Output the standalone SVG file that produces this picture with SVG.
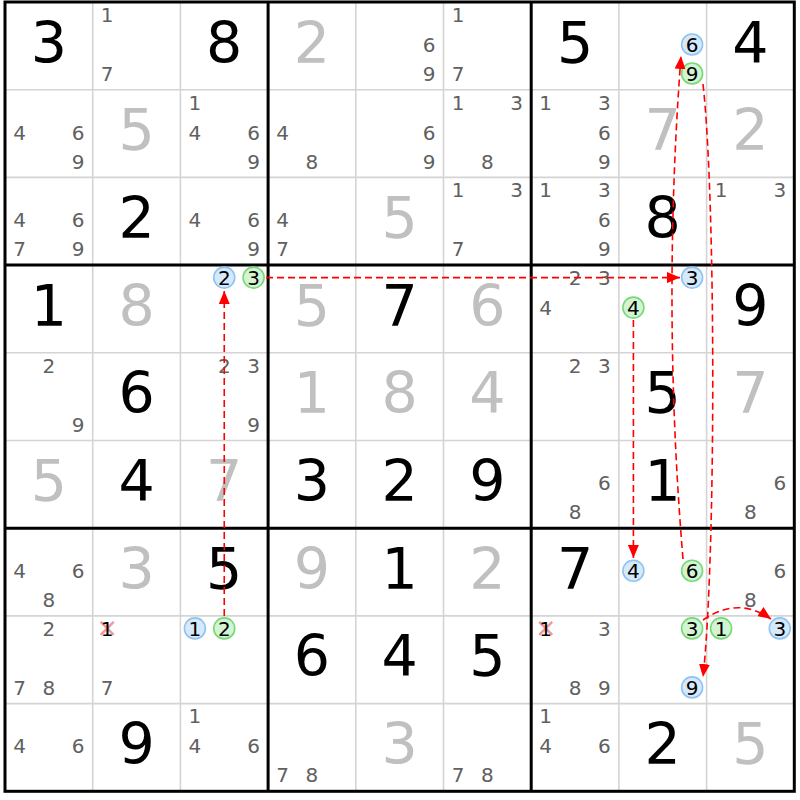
<svg xmlns="http://www.w3.org/2000/svg" width="800" height="800" viewBox="0 0 800 800">
<style>
text{font-family:"DejaVu Sans","Liberation Sans",sans-serif;text-anchor:middle}
.b{font-size:57px;fill:#000}
.g{font-size:57px;fill:#c0c0c0}
.c{font-size:20px;fill:#606060}
.k{font-size:20px;fill:#000}
.thin{stroke:#d4d4d4;stroke-width:1.6}
.thick{stroke:#000;stroke-width:3}
.cb{fill:#d6e9fb;stroke:#8fc3f2;stroke-width:1.6}
.cg{fill:#d3f4d3;stroke:#78d878;stroke-width:1.6}
.x{stroke:#f59a9a;stroke-width:2.6}
.arr{fill:none;stroke:#ff0000;stroke-width:1.6;stroke-dasharray:7,4}
</style>
<defs>
<marker id="ah" markerUnits="userSpaceOnUse" markerWidth="13" markerHeight="11" refX="13" refY="5.5" orient="auto">
<path d="M0,0 L13,5.5 L0,11 Z" fill="#ff0000"/>
</marker>
</defs>
<rect width="800" height="800" fill="#fff"/>
<g id="grid">
<path class="thin" d="M92.7,2V791.3M180.4,2V791.3M355.8,2V791.3M443.5,2V791.3M618.9,2V791.3M706.6,2V791.3M5,89.7H794.3M5,177.4H794.3M5,352.8H794.3M5,440.5H794.3M5,615.9H794.3M5,703.6H794.3"/>
<path class="thick" fill="none" d="M268.1,2V791.3M531.2,2V791.3M5,265.1H794.3M5,528.2H794.3"/>
<rect class="thick" fill="none" x="5" y="2" width="789.3" height="789.3"/>
</g>
<g id="r1c1"><text class="b" x="48.85" y="62.5">3</text></g>
<g id="r1c2"><text class="c" x="107.2" y="21.8">1</text><text class="c" x="107.2" y="80.8">7</text></g>
<g id="r1c3"><text class="b" x="224.25" y="62.5">8</text></g>
<g id="r1c4"><text class="g" x="311.95" y="62.5">2</text></g>
<g id="r1c5"><text class="c" x="429" y="51.8">6</text><text class="c" x="429" y="80.8">9</text></g>
<g id="r1c6"><text class="c" x="458" y="21.8">1</text><text class="c" x="458" y="80.8">7</text></g>
<g id="r1c7"><text class="b" x="575.05" y="62.5">5</text></g>
<g id="r1c8"><circle class="cb" cx="692.1" cy="44.5" r="10.5"/><text class="k" x="692.1" y="51.8">6</text><circle class="cg" cx="692.1" cy="73.5" r="10.5"/><text class="k" x="692.1" y="80.8">9</text></g>
<g id="r1c9"><text class="b" x="750.45" y="62.5">4</text></g>

<g id="r2c1"><text class="c" x="19.5" y="139.5">4</text><text class="c" x="78.2" y="139.5">6</text><text class="c" x="78.2" y="168.5">9</text></g>
<g id="r2c2"><text class="g" x="136.55" y="150.2">5</text></g>
<g id="r2c3"><text class="c" x="194.9" y="109.5">1</text><text class="c" x="194.9" y="139.5">4</text><text class="c" x="253.6" y="139.5">6</text><text class="c" x="253.6" y="168.5">9</text></g>
<g id="r2c4"><text class="c" x="282.6" y="139.5">4</text><text class="c" x="311.95" y="168.5">8</text></g>
<g id="r2c5"><text class="c" x="429" y="139.5">6</text><text class="c" x="429" y="168.5">9</text></g>
<g id="r2c6"><text class="c" x="458" y="109.5">1</text><text class="c" x="516.7" y="109.5">3</text><text class="c" x="487.35" y="168.5">8</text></g>
<g id="r2c7"><text class="c" x="545.7" y="109.5">1</text><text class="c" x="604.4" y="109.5">3</text><text class="c" x="604.4" y="139.5">6</text><text class="c" x="604.4" y="168.5">9</text></g>
<g id="r2c8"><text class="g" x="662.75" y="150.2">7</text></g>
<g id="r2c9"><text class="g" x="750.45" y="150.2">2</text></g>

<g id="r3c1"><text class="c" x="19.5" y="227.2">4</text><text class="c" x="78.2" y="227.2">6</text><text class="c" x="19.5" y="256.2">7</text><text class="c" x="78.2" y="256.2">9</text></g>
<g id="r3c2"><text class="b" x="136.55" y="237.9">2</text></g>
<g id="r3c3"><text class="c" x="194.9" y="227.2">4</text><text class="c" x="253.6" y="227.2">6</text><text class="c" x="253.6" y="256.2">9</text></g>
<g id="r3c4"><text class="c" x="282.6" y="227.2">4</text><text class="c" x="282.6" y="256.2">7</text></g>
<g id="r3c5"><text class="g" x="399.65" y="237.9">5</text></g>
<g id="r3c6"><text class="c" x="458" y="197.2">1</text><text class="c" x="516.7" y="197.2">3</text><text class="c" x="458" y="256.2">7</text></g>
<g id="r3c7"><text class="c" x="545.7" y="197.2">1</text><text class="c" x="604.4" y="197.2">3</text><text class="c" x="604.4" y="227.2">6</text><text class="c" x="604.4" y="256.2">9</text></g>
<g id="r3c8"><text class="b" x="662.75" y="237.9">8</text></g>
<g id="r3c9"><text class="c" x="721.1" y="197.2">1</text><text class="c" x="779.8" y="197.2">3</text></g>

<g id="r4c1"><text class="b" x="48.85" y="325.6">1</text></g>
<g id="r4c2"><text class="g" x="136.55" y="325.6">8</text></g>
<g id="r4c3"><circle class="cb" cx="224.25" cy="277.6" r="10.5"/><text class="k" x="224.25" y="284.9">2</text><circle class="cg" cx="253.6" cy="277.6" r="10.5"/><text class="k" x="253.6" y="284.9">3</text></g>
<g id="r4c4"><text class="g" x="311.95" y="325.6">5</text></g>
<g id="r4c5"><text class="b" x="399.65" y="325.6">7</text></g>
<g id="r4c6"><text class="g" x="487.35" y="325.6">6</text></g>
<g id="r4c7"><text class="c" x="575.05" y="284.9">2</text><text class="c" x="604.4" y="284.9">3</text><text class="c" x="545.7" y="314.9">4</text></g>
<g id="r4c8"><circle class="cb" cx="692.1" cy="277.6" r="10.5"/><text class="k" x="692.1" y="284.9">3</text><circle class="cg" cx="633.4" cy="307.6" r="10.5"/><text class="k" x="633.4" y="314.9">4</text></g>
<g id="r4c9"><text class="b" x="750.45" y="325.6">9</text></g>

<g id="r5c1"><text class="c" x="48.85" y="372.6">2</text><text class="c" x="78.2" y="431.6">9</text></g>
<g id="r5c2"><text class="b" x="136.55" y="413.3">6</text></g>
<g id="r5c3"><text class="c" x="224.25" y="372.6">2</text><text class="c" x="253.6" y="372.6">3</text><text class="c" x="253.6" y="431.6">9</text></g>
<g id="r5c4"><text class="g" x="311.95" y="413.3">1</text></g>
<g id="r5c5"><text class="g" x="399.65" y="413.3">8</text></g>
<g id="r5c6"><text class="g" x="487.35" y="413.3">4</text></g>
<g id="r5c7"><text class="c" x="575.05" y="372.6">2</text><text class="c" x="604.4" y="372.6">3</text></g>
<g id="r5c8"><text class="b" x="662.75" y="413.3">5</text></g>
<g id="r5c9"><text class="g" x="750.45" y="413.3">7</text></g>

<g id="r6c1"><text class="g" x="48.85" y="501">5</text></g>
<g id="r6c2"><text class="b" x="136.55" y="501">4</text></g>
<g id="r6c3"><text class="g" x="224.25" y="501">7</text></g>
<g id="r6c4"><text class="b" x="311.95" y="501">3</text></g>
<g id="r6c5"><text class="b" x="399.65" y="501">2</text></g>
<g id="r6c6"><text class="b" x="487.35" y="501">9</text></g>
<g id="r6c7"><text class="c" x="604.4" y="490.3">6</text><text class="c" x="575.05" y="519.3">8</text></g>
<g id="r6c8"><text class="b" x="662.75" y="501">1</text></g>
<g id="r6c9"><text class="c" x="779.8" y="490.3">6</text><text class="c" x="750.45" y="519.3">8</text></g>

<g id="r7c1"><text class="c" x="19.5" y="578">4</text><text class="c" x="78.2" y="578">6</text><text class="c" x="48.85" y="607">8</text></g>
<g id="r7c2"><text class="g" x="136.55" y="588.7">3</text></g>
<g id="r7c3"><text class="b" x="224.25" y="588.7">5</text></g>
<g id="r7c4"><text class="g" x="311.95" y="588.7">9</text></g>
<g id="r7c5"><text class="b" x="399.65" y="588.7">1</text></g>
<g id="r7c6"><text class="g" x="487.35" y="588.7">2</text></g>
<g id="r7c7"><text class="b" x="575.05" y="588.7">7</text></g>
<g id="r7c8"><circle class="cb" cx="633.4" cy="570.7" r="10.5"/><text class="k" x="633.4" y="578">4</text><circle class="cg" cx="692.1" cy="570.7" r="10.5"/><text class="k" x="692.1" y="578">6</text></g>
<g id="r7c9"><text class="c" x="779.8" y="578">6</text><text class="c" x="750.45" y="607">8</text></g>

<g id="r8c1"><text class="c" x="48.85" y="635.7">2</text><text class="c" x="19.5" y="694.7">7</text><text class="c" x="48.85" y="694.7">8</text></g>
<g id="r8c2"><path class="x" d="M100.7,621.9L113.7,634.9M113.7,621.9L100.7,634.9"/><text class="k" x="107.2" y="635.7">1</text><text class="c" x="107.2" y="694.7">7</text></g>
<g id="r8c3"><circle class="cb" cx="194.9" cy="628.4" r="10.5"/><text class="k" x="194.9" y="635.7">1</text><circle class="cg" cx="224.25" cy="628.4" r="10.5"/><text class="k" x="224.25" y="635.7">2</text></g>
<g id="r8c4"><text class="b" x="311.95" y="676.4">6</text></g>
<g id="r8c5"><text class="b" x="399.65" y="676.4">4</text></g>
<g id="r8c6"><text class="b" x="487.35" y="676.4">5</text></g>
<g id="r8c7"><path class="x" d="M539.2,621.9L552.2,634.9M552.2,621.9L539.2,634.9"/><text class="k" x="545.7" y="635.7">1</text><text class="c" x="604.4" y="635.7">3</text><text class="c" x="575.05" y="694.7">8</text><text class="c" x="604.4" y="694.7">9</text></g>
<g id="r8c8"><circle class="cg" cx="692.1" cy="628.4" r="10.5"/><text class="k" x="692.1" y="635.7">3</text><circle class="cb" cx="692.1" cy="687.4" r="10.5"/><text class="k" x="692.1" y="694.7">9</text></g>
<g id="r8c9"><circle class="cg" cx="721.1" cy="628.4" r="10.5"/><text class="k" x="721.1" y="635.7">1</text><circle class="cb" cx="779.8" cy="628.4" r="10.5"/><text class="k" x="779.8" y="635.7">3</text></g>

<g id="r9c1"><text class="c" x="19.5" y="753.4">4</text><text class="c" x="78.2" y="753.4">6</text></g>
<g id="r9c2"><text class="b" x="136.55" y="764.1">9</text></g>
<g id="r9c3"><text class="c" x="194.9" y="723.4">1</text><text class="c" x="194.9" y="753.4">4</text><text class="c" x="253.6" y="753.4">6</text></g>
<g id="r9c4"><text class="c" x="282.6" y="782.4">7</text><text class="c" x="311.95" y="782.4">8</text></g>
<g id="r9c5"><text class="g" x="399.65" y="764.1">3</text></g>
<g id="r9c6"><text class="c" x="458" y="782.4">7</text><text class="c" x="487.35" y="782.4">8</text></g>
<g id="r9c7"><text class="c" x="545.7" y="723.4">1</text><text class="c" x="545.7" y="753.4">4</text><text class="c" x="604.4" y="753.4">6</text></g>
<g id="r9c8"><text class="b" x="662.75" y="764.1">2</text></g>
<g id="r9c9"><text class="g" x="750.45" y="764.1">5</text></g>

<g id="connectors">
<path class="arr" marker-end="url(#ah)" d="M224.25,616 L224.25,291"/>
<path class="arr" marker-end="url(#ah)" d="M266,277.6 L680,277.6"/>
<path class="arr" marker-end="url(#ah)" d="M633.4,320 L633.4,558"/>
<path class="arr" marker-end="url(#ah)" d="M683,559 Q662,307 681,56"/>
<path class="arr" marker-end="url(#ah)" d="M703,84 C716,200 716,560 703,677"/>
<path class="arr" marker-end="url(#ah)" d="M703,620 Q738,596 771,619"/>
</g>
</svg>
